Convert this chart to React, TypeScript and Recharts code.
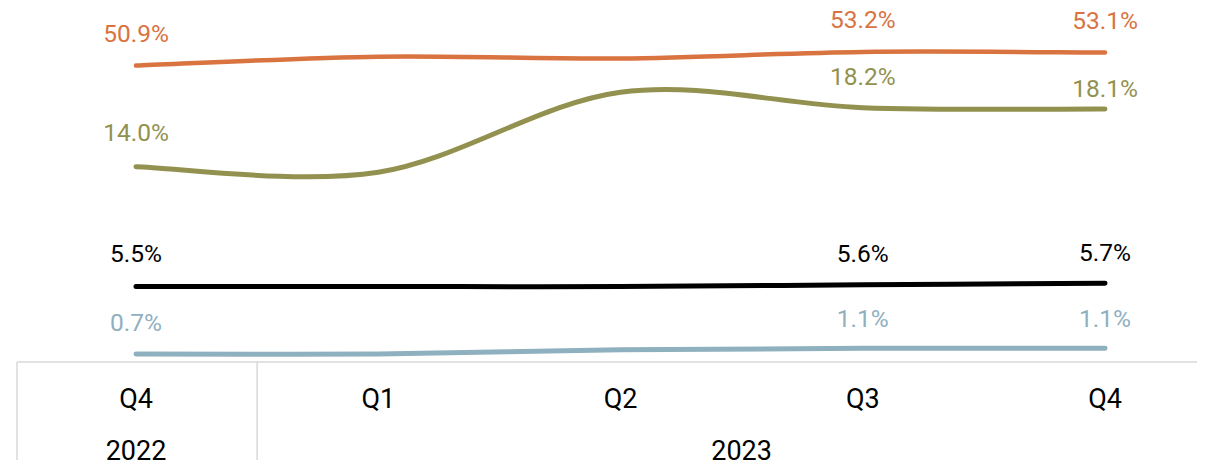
import React from "react";
import { Line, LineChart, XAxis, YAxis } from "recharts";

const quarters = ["Q4", "Q1", "Q2", "Q3", "Q4"];
const years = ["2022", "2023"];

const orangeValues = [50.9, 52.4, 52.1, 53.2, 53.1];
const greenValues = [14.0, 13.6, 19.3, 18.2, 18.1];
const blackValues = [5.5, 5.5, 5.5, 5.6, 5.7];
const blueValues = [0.7, 0.7, 1.0, 1.1, 1.1];

// only some points carry a label
const orangeLabels = ["50.9%", null, null, "53.2%", "53.1%"];
const greenLabels = ["14.0%", null, null, "18.2%", "18.1%"];
const blackLabels = ["5.5%", null, null, "5.6%", "5.7%"];
const blueLabels = ["0.7%", null, null, "1.1%", "1.1%"];

const WIDTH = 1205;
const HEIGHT = 468;
const LEFT = 17;
const PAD_LEFT = 119;
const PAD_RIGHT = 100;
const AXIS_HEIGHT = 106;
const STEP = (WIDTH - LEFT - PAD_LEFT - PAD_RIGHT) / (quarters.length - 1);
const FONT = "Roboto, 'Noto Sans', sans-serif";
const GRID = "#d9d9d9";

const data = quarters.map((q, i) => ({
  q,
  orange: orangeValues[i],
  green: greenValues[i],
  black: blackValues[i],
  blue: blueValues[i],
}));

// smooth line like office charts (catmull-rom style bezier)
const smoothCurve = (context: any) => {
  let xs: number[] = [];
  let ys: number[] = [];
  const k = 1 / 6;
  return {
    areaStart() {},
    areaEnd() {},
    lineStart() {
      xs = [];
      ys = [];
    },
    point(x: number, y: number) {
      xs.push(+x);
      ys.push(+y);
    },
    lineEnd() {
      const n = xs.length;
      if (!n) return;
      context.moveTo(xs[0], ys[0]);
      for (let i = 0; i < n - 1; i++) {
        const x0 = i > 0 ? xs[i - 1] : xs[i];
        const y0 = i > 0 ? ys[i - 1] : ys[i];
        const x3 = i + 2 < n ? xs[i + 2] : xs[i + 1];
        const y3 = i + 2 < n ? ys[i + 2] : ys[i + 1];
        context.bezierCurveTo(
          xs[i] + k * (xs[i + 1] - x0),
          ys[i] + k * (ys[i + 1] - y0),
          xs[i + 1] - k * (x3 - xs[i]),
          ys[i + 1] - k * (y3 - ys[i]),
          xs[i + 1],
          ys[i + 1],
        );
      }
    },
  };
};

const makeLabel =
  (labels: (string | null)[], color: string, offsets: number[] = []) =>
  (props: any) => {
    const { x, y, index } = props;
    const text = labels[index];
    if (!text) return null;
    const off = offsets[index] ?? 31;
    return (
      <text
        key={index}
        x={x}
        y={y - off}
        fill={color}
        fontSize={24.5}
        fontFamily={FONT}
        textAnchor="middle"
        dominantBaseline="central"
      >
        {text}
      </text>
    );
  };

const QuarterTick = (props: any) => {
  const { x, y, payload, index } = props;
  return (
    <g>
      <text
        x={x}
        y={y + 46}
        fontSize={27}
        fontFamily={FONT}
        fill="#000"
        textAnchor="middle"
      >
        {payload.value}
      </text>
      {index === 0 && (
        <>
          <line x1={x - PAD_LEFT} x2={x - PAD_LEFT} y1={y} y2={HEIGHT} stroke={GRID} strokeWidth={1.5} />
          <text x={x} y={y + 98} fontSize={27} fontFamily={FONT} fill="#000" textAnchor="middle">
            {years[0]}
          </text>
        </>
      )}
      {index === 1 && (
        <>
          <line x1={x - STEP / 2} x2={x - STEP / 2} y1={y} y2={HEIGHT} stroke={GRID} strokeWidth={1.5} />
          <text x={x + 1.5 * STEP} y={y + 98} fontSize={27} fontFamily={FONT} fill="#000" textAnchor="middle">
            {years[1]}
          </text>
        </>
      )}
    </g>
  );
};

export default function App() {
  return (
    <div style={{ margin: -8, width: WIDTH, height: HEIGHT, background: "#fff" }}>
      <LineChart
        width={WIDTH}
        height={HEIGHT}
        data={data}
        margin={{ top: 0, right: 0, bottom: 0, left: LEFT }}
      >
        <XAxis
          dataKey="q"
          height={AXIS_HEIGHT}
          padding={{ left: PAD_LEFT, right: PAD_RIGHT }}
          axisLine={{ stroke: GRID, strokeWidth: 1.5 }}
          tickLine={false}
          tickSize={0}
          tickMargin={0}
          interval={0}
          tick={<QuarterTick />}
        />
        <YAxis yAxisId="orange" hide domain={[1.2, 61.9]} allowDataOverflow />
        <YAxis yAxisId="green" hide domain={[0.1, 25.86]} allowDataOverflow />
        <YAxis yAxisId="black" hide domain={[1.06, 22.36]} allowDataOverflow />
        <YAxis yAxisId="blue" hide domain={[0.14, 25.54]} allowDataOverflow />
        <Line
          yAxisId="orange"
          type={smoothCurve as any}
          dataKey="orange"
          stroke="#d9733f"
          strokeWidth={4.5}
          strokeLinecap="round"
          dot={false}
          activeDot={false}
          isAnimationActive={false}
          label={makeLabel(orangeLabels, "#d9733f", [32, 31, 31, 32, 32])}
        />
        <Line
          yAxisId="green"
          type={smoothCurve as any}
          dataKey="green"
          stroke="#939150"
          strokeWidth={5}
          strokeLinecap="round"
          dot={false}
          activeDot={false}
          isAnimationActive={false}
          label={makeLabel(greenLabels, "#939150", [34, 31, 31, 31, 21])}
        />
        <Line
          yAxisId="black"
          type={smoothCurve as any}
          dataKey="black"
          stroke="#000000"
          strokeWidth={5}
          strokeLinecap="round"
          dot={false}
          activeDot={false}
          isAnimationActive={false}
          label={makeLabel(blackLabels, "#000000", [33, 31, 31, 31, 31])}
        />
        <Line
          yAxisId="blue"
          type={smoothCurve as any}
          dataKey="blue"
          stroke="#8fb0bf"
          strokeWidth={5}
          strokeLinecap="round"
          dot={false}
          activeDot={false}
          isAnimationActive={false}
          label={makeLabel(blueLabels, "#8fb0bf", [32, 31, 31, 30, 30])}
        />
      </LineChart>
    </div>
  );
}
